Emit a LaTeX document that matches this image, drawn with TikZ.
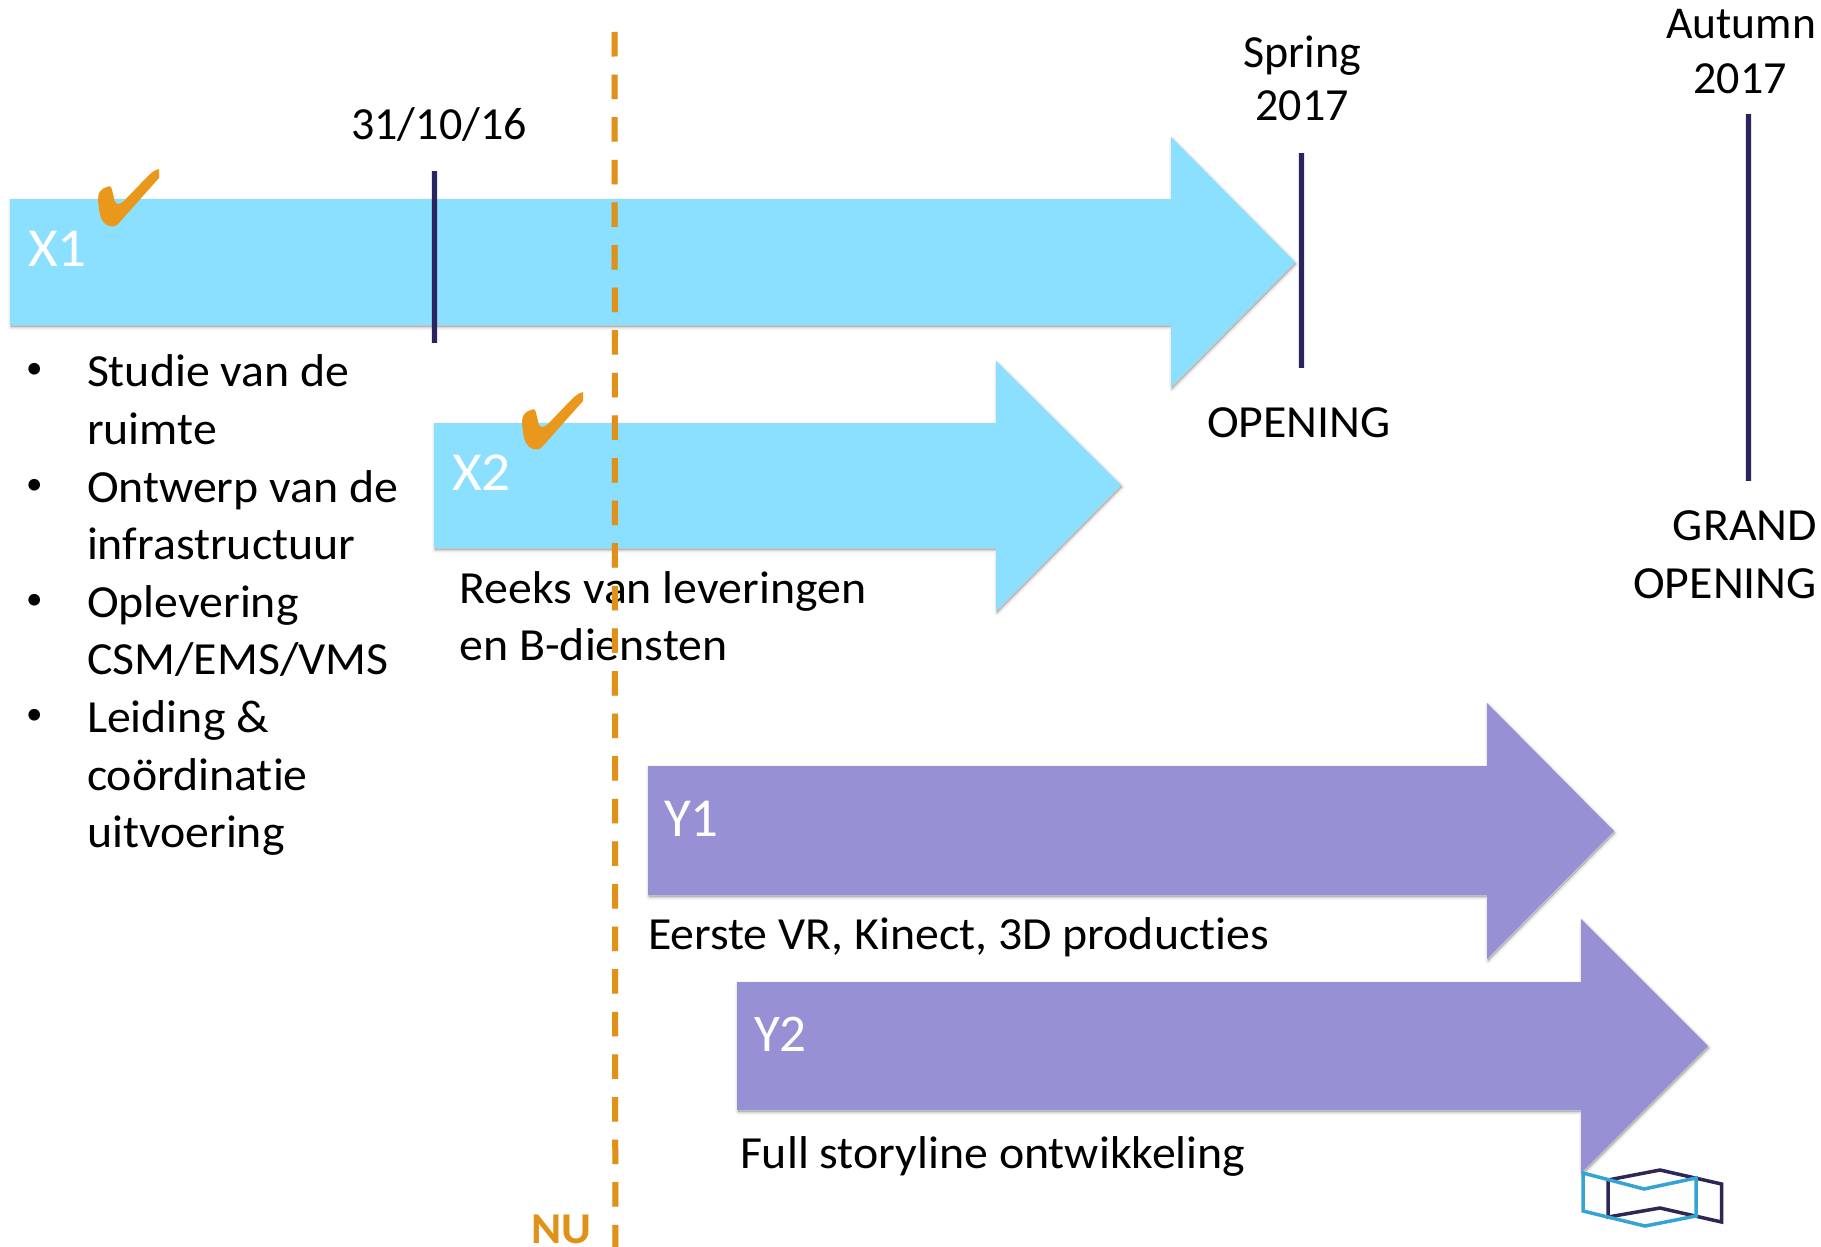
\documentclass[tikz,border=0pt]{standalone}
\usepackage{fontspec}
\setmainfont{Carlito}[Ligatures=NoCommon]
\newfontfamily\stretchfont{Carlito}[Ligatures=NoCommon,FakeStretch=1.04]
\definecolor{xblue}{HTML}{8BDFFF}
\definecolor{ypurple}{HTML}{9890D4}
\definecolor{navy}{HTML}{2A2560}
\definecolor{nuorange}{HTML}{E09218}
\definecolor{checkorange}{HTML}{EA981C}
\definecolor{logoblue}{HTML}{35A4D2}
\definecolor{logonavy}{HTML}{2E2756}
\newcommand{\blockarrow}[9]{%
  % colour, left, top, bottom, base, tip, centre, headtop, headbottom
  \foreach \lw/\op in {6/.03,4/.04,2/.05,0.2/.05}{
    \filldraw[softshadow,line width=\lw pt,opacity=\op] (#2,#3) -- (#5,#3) -- (#5,#8) -- (#6,#7) -- (#5,#9) -- (#5,#4) -- (#2,#4) -- cycle;
  }
  \fill[#1] (#2,#3) -- (#5,#3) -- (#5,#8) -- (#6,#7) -- (#5,#9) -- (#5,#4) -- (#2,#4) -- cycle;
}
\tikzset{
  x=1pt,y=-1pt,
  softshadow/.style={draw=black,fill=black,line join=round,shift={(1,2)}},
  lbl/.style={inner sep=0pt,outer sep=0pt,font=\stretchfont\fontsize{46}{53}\selectfont,text=black,anchor=base west},
  lblc/.style={lbl,anchor=base},
  lble/.style={lbl,anchor=base east},
  datelbl/.style={lblc,font=\fontsize{46}{53}\selectfont},
  dateend/.style={lble,font=\fontsize{45.5}{53}\selectfont},
  bulletlbl/.style={lbl,font=\fontsize{33}{40}\selectfont},
  arrowlbl/.style={lbl,text=white,font=\fontsize{55}{60}\selectfont},
  arrowlblx/.style={lbl,text=white,font=\stretchfont\fontsize{55}{60}\selectfont},
  milestone/.style={draw=navy,line width=5.2pt},
  nuline/.style={line width=6pt,dash pattern=on 24.5pt off 18.1pt},
  logoline/.style={line width=3.5pt,line join=miter},
  tick/.pic={
    \fill[checkorange] (159,169) .. controls (154,170) and (150,174) .. (146,178)
      -- (124,201) .. controls (118,206) and (115,205) .. (114,198)
      -- (112,190) .. controls (111,185) and (110,186) .. (107,187)
      .. controls (100,189) and (98,193) .. (98,200)
      .. controls (99,210) and (100,217) .. (102,220)
      .. controls (105,226) and (113,229) .. (118,224)
      -- (159,178) -- cycle;
  }
}
\begin{document}
\begin{tikzpicture}
\useasboundingbox (0,0) rectangle (1821,1247);
\fill[white] (0,0) rectangle (1821,1247);

\blockarrow{xblue}{10}{199}{325}{1171}{1295}{262}{137}{387}
\blockarrow{xblue}{434}{423}{548}{996}{1121}{485}{361}{611}
\blockarrow{ypurple}{648}{766}{895}{1487}{1614}{831}{703}{959}
\blockarrow{ypurple}{737}{982}{1110}{1581}{1708}{1046}{919}{1173}

\coordinate (m1a) at (434.7,171); \coordinate (m1b) at (434.7,343);
\coordinate (m2a) at (1301.5,153); \coordinate (m2b) at (1301.5,368);
\coordinate (m3a) at (1748.3,114); \coordinate (m3b) at (1748.3,481);
\foreach \a/\b in {m1a/m1b,m2a/m2b,m3a/m3b}{
  \draw[black,opacity=.1,line width=7pt,shift={(1,3)}] (\a) -- (\b);
  \draw[milestone] (\a) -- (\b);
}

\pic at (0,0) {tick};
\pic at (424,223) {tick};

\node[arrowlblx] (x1) at (28,266) {X1};
\node[arrowlblx] (x2) at (452,490) {X2};
\node[arrowlbl] (y1) at (664,836) {Y1};
\node[arrowlbl,font=\fontsize{53}{60}\selectfont] (y2) at (754,1051) {Y2};

\node[datelbl] (d1) at (439,139.5) {31/10/16};
\node[datelbl] (s1) at (1302,67) {Spring};
\node[datelbl] (s2) at (1302,121) {2017};
\node[dateend] (a1) at (1816,38.5) {Autumn};
\node[datelbl] (a2) at (1740,93) {2017};
\node[lblc] (o1) at (1299,437) {OPENING};
\node[lble] (g1) at (1817,540) {GRAND};
\node[lble] (g2) at (1817,598) {OPENING};

\foreach \n/\y in {b1/378,b2/494,b3/609,b4/724}{
  \node[bulletlbl] (\n) at (26,\y) {•};
}
\node[lbl] (l1) at (87,386) {Studie van de};
\node[lbl] (l2) at (87,444) {ruimte};
\node[lbl] (l3) at (87,502) {Ontwerp van de};
\node[lbl] (l4) at (87,559) {infrastructuur};
\node[lbl] (l5) at (87,617) {Oplevering};
\node[lbl] (l6) at (87,674.5) {CSM/EMS/VMS};
\node[lbl] (l7) at (87,732) {Leiding \&};
\node[lbl] (l8) at (87,790) {coördinatie};
\node[lbl] (l9) at (87,847) {uitvoering};

\node[lbl] (r1) at (459.5,603) {Reeks van leveringen};
\node[lbl] (r2) at (459.5,660) {en B-diensten};
\node[lbl] (e1) at (648,949) {Eerste VR, Kinect, 3D producties};
\node[lbl] (f1) at (740,1168) {Full storyline ontwikkeling};

\coordinate (nua) at (614.6,32); \coordinate (nub) at (615.3,1247);
\draw[black,opacity=.12,nuline,shift={(1,3)}] (nua) -- (nub);
\draw[nuorange,nuline] (nua) -- (nub);
\node[lbl,text=nuorange,font=\stretchfont\fontsize{44}{48}\selectfont\bfseries] (nu) at (531,1243.5) {NU};

% logo
\draw[logoline,draw=logonavy] (1608,1180) -- (1660,1170) -- (1721.5,1184) -- (1721.5,1222) -- (1660,1208) -- (1608,1217) -- cycle;
\draw[logoline,draw=logoblue] (1583,1173) -- (1644,1189) -- (1696,1178) -- (1696,1216) -- (1645,1226) -- (1583,1211) -- cycle;
\end{tikzpicture}
\end{document}
